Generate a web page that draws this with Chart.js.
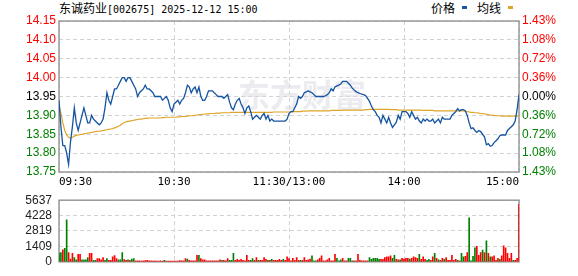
<!DOCTYPE html>
<html><head><meta charset="utf-8">
<script src="https://cdn.jsdelivr.net/npm/chart.js@4.4.1/dist/chart.umd.min.js"></script>
<style>
html,body{margin:0;padding:0;background:#fff;width:578px;height:276px;overflow:hidden;position:relative}
canvas{position:absolute;left:0}
#c1{top:0}
#c2{top:186px}
.title{position:absolute;left:59px;top:1px;line-height:14px;color:#000;white-space:nowrap}
.cjk{font-family:"Noto Sans CJK SC";font-size:12px}
.mono{font-family:"DejaVu Sans Mono";font-size:10px}
.legend{position:absolute;top:1px;font-family:"Noto Sans CJK SC";font-size:12px;line-height:14px;color:#000}
.sq{position:absolute;width:5px;height:3px}
</style></head>
<body>
<div class="title"><span class="cjk">东诚药业</span><span class="mono">[002675] 2025-12-12 15:00</span></div>
<div class="legend" style="left:431px">价格</div>
<div class="sq" style="left:462px;top:6px;background:#1a56a6"></div>
<div class="legend" style="left:477px">均线</div>
<div class="sq" style="left:508px;top:6px;background:#dca628"></div>
<canvas id="c1" width="578" height="190"></canvas>
<canvas id="c2" width="578" height="90"></canvas>
<script>
const timeLabels = ['09:30','10:30','11:30/13:00','14:00','15:00'];
const timeTickMinutes = [0,60,120,180,240];
const preClose = 13.95;
const priceTicks = [13.75,13.80,13.85,13.90,13.95,14.00,14.05,14.10,14.15];
const pctLabels = ['1.43%','1.08%','0.72%','0.36%','0.00%','0.36%','0.72%','1.08%','1.43%'];
const volTicks = [0,1409,2819,4228,5637];
const volMax = 5637;

const price = [
13.94,13.87,13.82,13.82,13.80,13.77,13.83,13.87,13.92,13.88,
13.86,13.88,13.90,13.92,13.90,13.88,13.88,13.90,13.89,13.885,
13.88,13.875,13.88,13.89,13.92,13.96,13.94,13.93,13.95,13.97,
13.97,13.98,13.99,14.00,14.00,13.99,14.00,14.00,13.99,13.98,
13.97,13.95,13.96,13.965,13.97,13.98,13.97,13.97,13.965,13.96,
13.95,13.95,13.95,13.95,13.94,13.945,13.95,13.94,13.92,13.91,
13.93,13.935,13.94,13.93,13.94,13.945,13.96,13.98,13.975,13.96,
13.97,13.975,13.96,13.975,13.95,13.94,13.94,13.95,13.965,13.965,
13.965,13.96,13.955,13.95,13.95,13.95,13.945,13.95,13.955,13.935,
13.92,13.915,13.93,13.94,13.945,13.93,13.92,13.905,13.92,13.925,
13.91,13.89,13.895,13.90,13.895,13.89,13.90,13.905,13.89,13.90,
13.885,13.89,13.885,13.885,13.885,13.885,13.885,13.885,13.885,13.89,
13.905,13.91,13.91,13.92,13.93,13.95,13.945,13.95,13.96,13.962,
13.965,13.962,13.96,13.955,13.95,13.95,13.95,13.95,13.95,13.952,
13.955,13.96,13.97,13.965,13.975,13.978,13.98,13.983,13.99,13.99,
13.99,13.985,13.98,13.972,13.967,13.963,13.96,13.958,13.956,13.955,
13.952,13.945,13.937,13.925,13.915,13.91,13.90,13.895,13.88,13.90,
13.89,13.88,13.895,13.88,13.868,13.875,13.882,13.90,13.89,13.91,
13.91,13.91,13.905,13.895,13.91,13.90,13.89,13.895,13.885,13.88,
13.89,13.885,13.89,13.885,13.885,13.89,13.88,13.885,13.89,13.88,
13.895,13.89,13.89,13.89,13.89,13.90,13.905,13.91,13.918,13.912,
13.915,13.915,13.912,13.90,13.88,13.865,13.867,13.86,13.855,13.86,
13.857,13.85,13.843,13.822,13.825,13.818,13.82,13.828,13.833,13.838,
13.846,13.848,13.848,13.848,13.86,13.865,13.87,13.875,13.885,13.915,
13.955];

const avgPrice = [
13.927,13.905,13.880,13.860,13.848,13.842,13.840,13.842,13.845,13.847,
13.848,13.849,13.850,13.851,13.852,13.853,13.854,13.855,13.856,13.857,
13.858,13.858,13.859,13.860,13.861,13.862,13.863,13.864,13.865,13.867,
13.869,13.871,13.874,13.878,13.881,13.883,13.884,13.885,13.886,13.887,
13.888,13.889,13.890,13.890,13.891,13.892,13.892,13.893,13.893,13.893,
13.893,13.893,13.893,13.893,13.894,13.894,13.895,13.895,13.895,13.895,
13.895,13.895,13.896,13.896,13.897,13.897,13.897,13.898,13.899,13.899,
13.899,13.900,13.901,13.902,13.902,13.903,13.903,13.904,13.904,13.905,
13.905,13.905,13.906,13.906,13.906,13.907,13.907,13.907,13.907,13.907,
13.908,13.908,13.908,13.908,13.908,13.908,13.908,13.908,13.908,13.908,
13.908,13.908,13.908,13.908,13.908,13.908,13.908,13.908,13.908,13.908,
13.908,13.908,13.909,13.909,13.909,13.909,13.909,13.909,13.909,13.909,
13.909,13.909,13.910,13.910,13.910,13.910,13.910,13.911,13.911,13.911,
13.912,13.912,13.912,13.912,13.912,13.912,13.912,13.912,13.912,13.912,
13.912,13.912,13.913,13.913,13.913,13.913,13.913,13.913,13.914,13.914,
13.914,13.914,13.914,13.914,13.914,13.914,13.914,13.914,13.914,13.914,
13.915,13.915,13.916,13.916,13.916,13.916,13.916,13.916,13.916,13.916,
13.916,13.916,13.916,13.915,13.915,13.915,13.915,13.914,13.914,13.914,
13.914,13.914,13.914,13.914,13.914,13.914,13.914,13.914,13.914,13.914,
13.913,13.913,13.913,13.913,13.913,13.913,13.912,13.912,13.912,13.912,
13.912,13.912,13.912,13.912,13.912,13.912,13.912,13.912,13.912,13.912,
13.912,13.912,13.911,13.910,13.909,13.908,13.908,13.907,13.907,13.906,
13.905,13.905,13.904,13.903,13.902,13.901,13.900,13.900,13.899,13.899,
13.899,13.898,13.898,13.898,13.898,13.898,13.898,13.898,13.898,13.898,
13.899];

const volume = [
770,850,1100,1230,3840,850,256,770,380,180,
690,690,180,180,180,380,770,770,128,128,
300,300,180,380,128,300,128,128,460,560,
300,180,180,850,200,128,180,128,256,300,
100,80,80,60,100,120,130,80,100,70,
80,60,60,80,60,140,60,70,60,60,
60,60,60,120,80,100,300,256,128,80,
80,100,590,590,300,180,180,100,80,80,
80,80,80,100,180,128,128,100,300,128,
128,770,128,230,128,230,128,100,590,128,
128,300,128,380,128,128,128,380,230,128,
128,230,128,128,128,230,128,230,128,460,
300,80,307,128,385,128,128,128,385,128,
180,256,540,80,80,180,307,540,80,80,
180,307,80,80,690,307,80,180,307,80,
80,307,307,80,80,80,690,128,80,80,
80,80,385,230,307,307,307,230,230,230,
385,460,460,540,307,590,230,180,180,307,
256,307,307,256,307,460,385,307,690,230,
460,230,128,230,128,460,770,307,180,128,
307,230,385,128,128,590,128,230,128,80,
770,460,510,850,4020,80,510,1280,1410,590,
850,1075,850,1920,770,460,460,540,128,307,
230,540,1460,1280,770,307,770,128,128,307,
5250];

const volUp = [
0,0,1,0,0,1,1,1,0,0,
1,1,0,0,0,0,1,1,0,0,
1,1,1,1,0,0,1,1,1,1,
1,0,0,0,1,1,0,1,0,0,
1,1,1,1,1,1,1,1,1,1,
1,1,1,1,1,0,1,1,1,1,
1,1,1,1,1,1,1,0,1,1,
1,1,1,0,1,1,1,1,1,1,
1,1,1,1,1,0,1,1,1,0,
0,0,1,1,1,1,1,1,1,1,
0,0,1,1,0,1,1,1,1,0,
1,0,1,1,1,1,1,0,1,1,
1,1,1,1,1,1,0,1,1,1,
1,1,0,0,0,1,1,1,1,1,
1,1,1,1,1,0,0,0,1,1,
1,0,0,1,0,1,1,1,1,1,
1,1,0,0,0,0,0,0,1,1,
1,1,1,1,0,0,1,1,0,1,
1,1,1,0,1,1,1,1,0,1,
1,1,0,0,1,1,0,1,0,1,
1,0,1,1,1,1,1,1,0,1,
0,0,1,1,0,0,0,0,1,1,
1,0,1,0,1,0,1,1,1,1,
0,1,1,1,1,1,1,0,1,1,
1];

const RED = '#ff0000', GREEN = '#008000', BLACK = '#000000';
const GRID = '#d2d2d2';
function levelColor(v){ if (Math.abs(v-preClose) < 1e-6) return BLACK; return v > preClose ? RED : GREEN; }

const framePlugin = {
  id:'frame',
  beforeDatasetsDraw(chart){
    const {ctx, chartArea:a} = chart;
    ctx.save(); ctx.strokeStyle = '#999999'; ctx.lineWidth = 1.5;
    ctx.strokeRect(a.left, a.top, a.right-a.left, a.bottom-a.top);
    ctx.restore();
  }
};
const watermarkPlugin = {
  id:'wm',
  beforeDatasetsDraw(chart){
    const {ctx} = chart;
    ctx.save();
    ctx.fillStyle = 'rgba(215,215,225,0.5)';
    ctx.font = 'bold 32px "Noto Sans CJK SC"';
    ctx.textBaseline = 'middle';
    ctx.fillText('东方财富', 238, 95);
    ctx.restore();
  }
};

const axisFont = {family:'Liberation Sans', size:12};

new Chart(document.getElementById('c1'), {
  type:'line',
  data:{datasets:[
    {data:price.map((v,i)=>({x:i,y:v})), borderColor:'#1453a0', borderWidth:1.3, pointRadius:0, tension:0, order:1},
    {data:avgPrice.map((v,i)=>({x:i,y:v})), borderColor:'#dea52a', borderWidth:1.2, pointRadius:0, tension:0, order:2}
  ]},
  options:{
    responsive:false, animation:false, devicePixelRatio:1,
    layout:{padding:{top:21,left:0,right:0,bottom:0}},
    plugins:{legend:{display:false}, tooltip:{enabled:false}},
    scales:{
      x:{type:'linear', min:0, max:240,
        afterBuildTicks:s=>{s.ticks = timeTickMinutes.map(v=>({value:v}));},
        afterFit:s=>{s.height = 18;},
        ticks:{align:'inner', padding:4, maxRotation:0, autoSkip:false, color:'#000',
          font:{family:'DejaVu Sans Mono', size:11}, callback:(v,i)=>timeLabels[i]},
        grid:{color:GRID, drawTicks:false}, border:{display:false, dash:[4,3]}},
      y:{position:'left', min:13.75, max:14.15,
        afterBuildTicks:s=>{s.ticks = priceTicks.map(v=>({value:v}));},
        afterFit:s=>{s.width = 59;},
        ticks:{padding:3, autoSkip:false, font:axisFont, color:c=>levelColor(c.tick.value), callback:v=>v.toFixed(2)},
        grid:{color:GRID, drawTicks:false}, border:{display:false, dash:[4,3]}},
      y2:{position:'right', min:13.75, max:14.15,
        afterBuildTicks:s=>{s.ticks = priceTicks.map(v=>({value:v}));},
        afterFit:s=>{s.width = 59;},
        ticks:{padding:3, autoSkip:false, font:axisFont, color:c=>levelColor(c.tick.value), callback:(v,i)=>pctLabels[i]},
        grid:{display:false, drawTicks:false}, border:{display:false}}
    }
  },
  plugins:[framePlugin, watermarkPlugin]
});

new Chart(document.getElementById('c2'), {
  type:'bar',
  data:{datasets:[
    {data:volume.map((v,i)=>({x:i,y:v})), backgroundColor:volUp.map(u=>u?RED:GREEN), barThickness:1, borderWidth:0}
  ]},
  options:{
    responsive:false, animation:false, devicePixelRatio:1,
    layout:{padding:{top:11,left:0,right:59,bottom:6}},
    plugins:{legend:{display:false}, tooltip:{enabled:false}},
    scales:{
      x:{type:'linear', min:0, max:240, offset:false,
        afterBuildTicks:s=>{s.ticks = timeTickMinutes.map(v=>({value:v}));},
        afterFit:s=>{s.height = 0;},
        ticks:{display:false},
        grid:{color:GRID, drawTicks:false, offset:false}, border:{display:false, dash:[4,3]}},
      y:{position:'left', min:0, max:volMax,
        afterBuildTicks:s=>{s.ticks = volTicks.map(v=>({value:v}));},
        afterFit:s=>{s.width = 59;},
        ticks:{padding:7, autoSkip:false, font:axisFont, color:'#222', callback:v=>String(v)},
        grid:{color:GRID, drawTicks:false}, border:{display:false, dash:[4,3]}}
    }
  },
  plugins:[framePlugin]
});
</script>
</body></html>
